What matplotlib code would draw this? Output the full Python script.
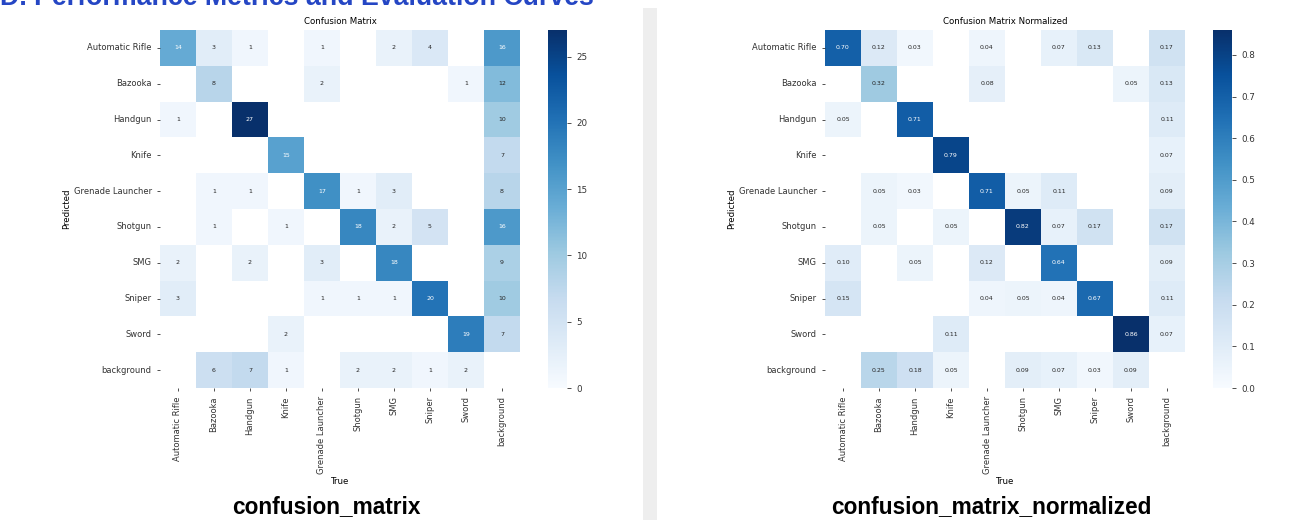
import numpy as np
import matplotlib
matplotlib.use("Agg")
import matplotlib.pyplot as plt
import seaborn as sns

# Class names (rows = predicted, columns = true)
classes = ["Automatic Rifle", "Bazooka", "Handgun", "Knife", "Grenade Launcher",
           "Shotgun", "SMG", "Sniper", "Sword", "background"]

# Raw counts
counts = np.array([
    [14, 3, 1, 0, 1, 0, 2, 4, 0, 16],
    [0, 8, 0, 0, 2, 0, 0, 0, 1, 12],
    [1, 0, 27, 0, 0, 0, 0, 0, 0, 10],
    [0, 0, 0, 15, 0, 0, 0, 0, 0, 7],
    [0, 1, 1, 0, 17, 1, 3, 0, 0, 8],
    [0, 1, 0, 1, 0, 18, 2, 5, 0, 16],
    [2, 0, 2, 0, 3, 0, 18, 0, 0, 9],
    [3, 0, 0, 0, 1, 1, 1, 20, 0, 10],
    [0, 0, 0, 2, 0, 0, 0, 0, 19, 7],
    [0, 6, 7, 1, 0, 2, 2, 1, 2, 0],
])

# Column-normalized values
normalized = np.array([
    [0.70, 0.12, 0.03, 0, 0.04, 0, 0.07, 0.13, 0, 0.17],
    [0, 0.32, 0, 0, 0.08, 0, 0, 0, 0.05, 0.13],
    [0.05, 0, 0.71, 0, 0, 0, 0, 0, 0, 0.11],
    [0, 0, 0, 0.79, 0, 0, 0, 0, 0, 0.07],
    [0, 0.05, 0.03, 0, 0.71, 0.05, 0.11, 0, 0, 0.09],
    [0, 0.05, 0, 0.05, 0, 0.82, 0.07, 0.17, 0, 0.17],
    [0.10, 0, 0.05, 0, 0.12, 0, 0.64, 0, 0, 0.09],
    [0.15, 0, 0, 0, 0.04, 0.05, 0.04, 0.67, 0, 0.11],
    [0, 0, 0, 0.11, 0, 0, 0, 0, 0.86, 0.07],
    [0, 0.25, 0.18, 0.05, 0, 0.09, 0.07, 0.03, 0.09, 0],
])

W, H = 1291, 520
fig = plt.figure(figsize=(W / 100, H / 100), dpi=100)
fig.patch.set_facecolor("white")


def px_axes(x0, y0, x1, y1):
    # axes from pixel box (top-left origin)
    return fig.add_axes([x0 / W, 1 - y1 / H, (x1 - x0) / W, (y1 - y0) / H])


# light gray divider between the two cards
div = px_axes(643, 8, 657, 520)
div.set_facecolor("#eeeeee")
div.set_xticks([])
div.set_yticks([])
for s in div.spines.values():
    s.set_visible(False)

# section heading, clipped by the top edge
fig.text(0.0, 1 - 5 / H, "D. Performance Metrics and Evaluation Curves",
         color="#2546c4", fontsize=19.3, fontweight="bold",
         family="Liberation Sans", va="baseline", ha="left")


def draw_matrix(data, x0, cbx0, title, fmt, ticks, caption, cap_x):
    ax = px_axes(x0, 30, x0 + 360, 388)
    cax = px_axes(cbx0, 30, cbx0 + 19, 388)
    mask = data == 0
    sns.heatmap(data, mask=mask, ax=ax, cbar_ax=cax, cmap="Blues",
                vmin=0, vmax=data.max(), annot=True, fmt=fmt,
                annot_kws={"size": 4.5}, xticklabels=classes,
                yticklabels=classes)
    ax.set_title(title, fontsize=6.2, pad=4)
    ax.set_xlabel("True", fontsize=6.2, labelpad=2)
    ax.set_ylabel("Predicted", fontsize=6.2, labelpad=2)
    ax.tick_params(axis="both", labelsize=6, length=2.5, width=0.6, colors="#333333")
    ax.set_xticklabels(classes, rotation=90)
    ax.set_yticklabels(classes, rotation=0)
    cax.set_yticks(ticks)
    cax.tick_params(labelsize=6.3, length=3, width=0.6, colors="#333333")
    for s in cax.spines.values():
        s.set_visible(False)
    fig.text(cap_x / W, 1 - 507 / H, caption, fontsize=16.3, fontweight="bold",
             family="Liberation Sans", ha="center", va="center")


draw_matrix(counts, 160, 548, "Confusion Matrix", "d",
            [0, 5, 10, 15, 20, 25], "confusion_matrix", 326)
draw_matrix(normalized, 825, 1213, "Confusion Matrix Normalized", ".2f",
            [0.0, 0.1, 0.2, 0.3, 0.4, 0.5, 0.6, 0.7, 0.8],
            "confusion_matrix_normalized", 991)

fig.savefig("out.png", dpi=100)
